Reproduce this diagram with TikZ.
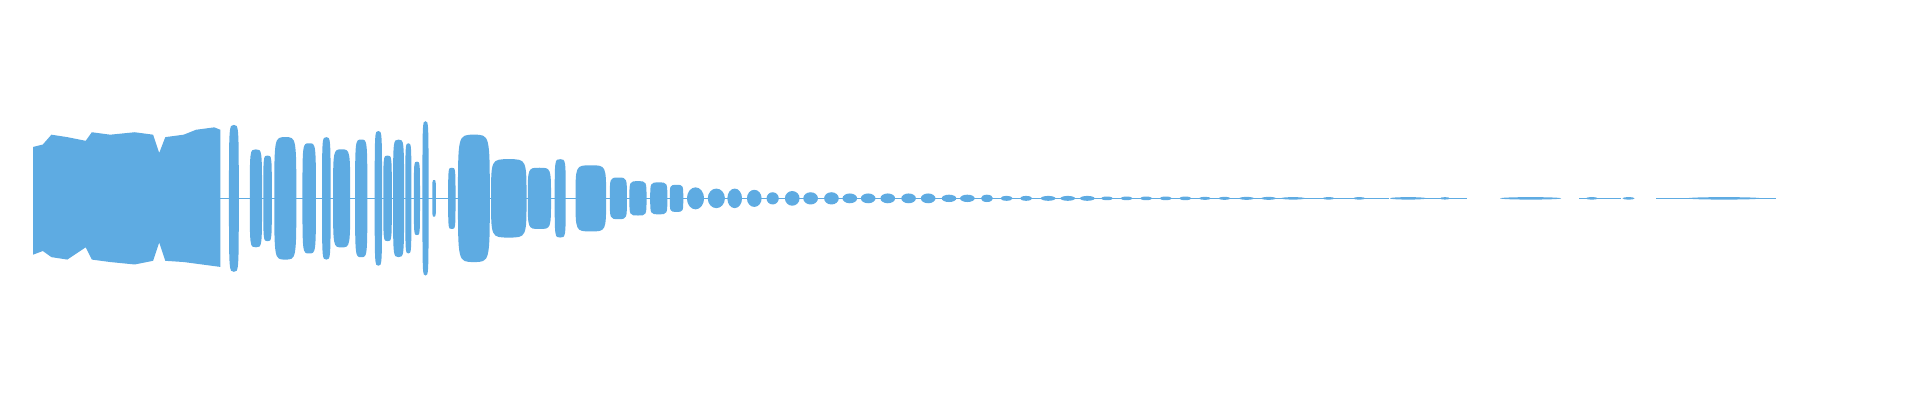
\documentclass[tikz,border=0pt]{standalone}
\definecolor{wave}{RGB}{94,171,226}
\tikzset{blk/.style={fill=wave,draw=none}, trace/.style={draw=wave,line width=0.3pt}}
\begin{document}
\begin{tikzpicture}[x=0.012245cm,y=-0.012245cm]
\useasboundingbox (0,0) rectangle (1568,327);
% loud opening part
\fill[blk] (27,120) -- (35,118) -- (42,110) -- (55,112) -- (70,115) -- (75,108) -- (90,110) -- (110,108) -- (125,110) -- (130,125) -- (135,112) -- (150,110) -- (160,106) -- (175,104) -- (180,106)
  -- (180,218) -- (165,216) -- (150,214) -- (135,213) -- (130,198) -- (125,213) -- (110,216) -- (90,214) -- (75,212) -- (70,202) -- (55,212) -- (42,210) -- (35,205) -- (27,208) -- cycle;
\draw[trace] (180,162) -- (1100,162);
\draw[trace,dash pattern=on 12pt off 10pt] (1100,162) -- (1465,162);
% spiky bursts
\foreach \a/\b/\h in {187/195/60, 204/214/40, 215/222/35, 224/242/50, 247/258/45, 263/270/50, 272/286/40, 290/300/48, 306/312/55, 313/320/35, 321/330/48, 331/336/45, 338/343/30, 345/350/63, 353/356/15, 366/372/25, 374/400/52, 401/430/32, 431/450/25, 453/462/32, 470/495/27, 498/512/17, 514/528/14, 531/545/13, 547/558/11}
  \fill[blk] (\a,162) .. controls (\a,162-\h) .. ({(\a+\b)/2},162-\h) .. controls (\b,162-\h) .. (\b,162) .. controls (\b,162+\h) .. ({(\a+\b)/2},162+\h) .. controls (\a,162+\h) .. (\a,162) -- cycle;
% fading blobs
\foreach \c/\w/\h in {568/7/9, 585/7/8, 600/6/8, 616/6/7, 631/5/5, 647/6/6, 662/6/5, 679/6/5, 694/6/4, 709/6/4, 725/6/4, 742/6/4, 758/6/4, 775/6/3, 790/6/3, 806/5/3, 822/5/2, 838/5/2, 856/6/2, 872/6/2, 888/6/2, 904/5/1.5, 920/5/1.5, 936/5/1.5, 952/5/1.5, 968/5/1.5, 984/5/1.2, 1000/5/1.2, 1018/6/1.2, 1036/6/1.2, 1056/10/1, 1085/5/1, 1110/5/1, 1150/15/1, 1180/4/1, 1250/25/1, 1300/5/1, 1330/5/1, 1408/30/1}
  \fill[blk] (\c,162) ellipse ({\w} and {\h});
\end{tikzpicture}
\end{document}
